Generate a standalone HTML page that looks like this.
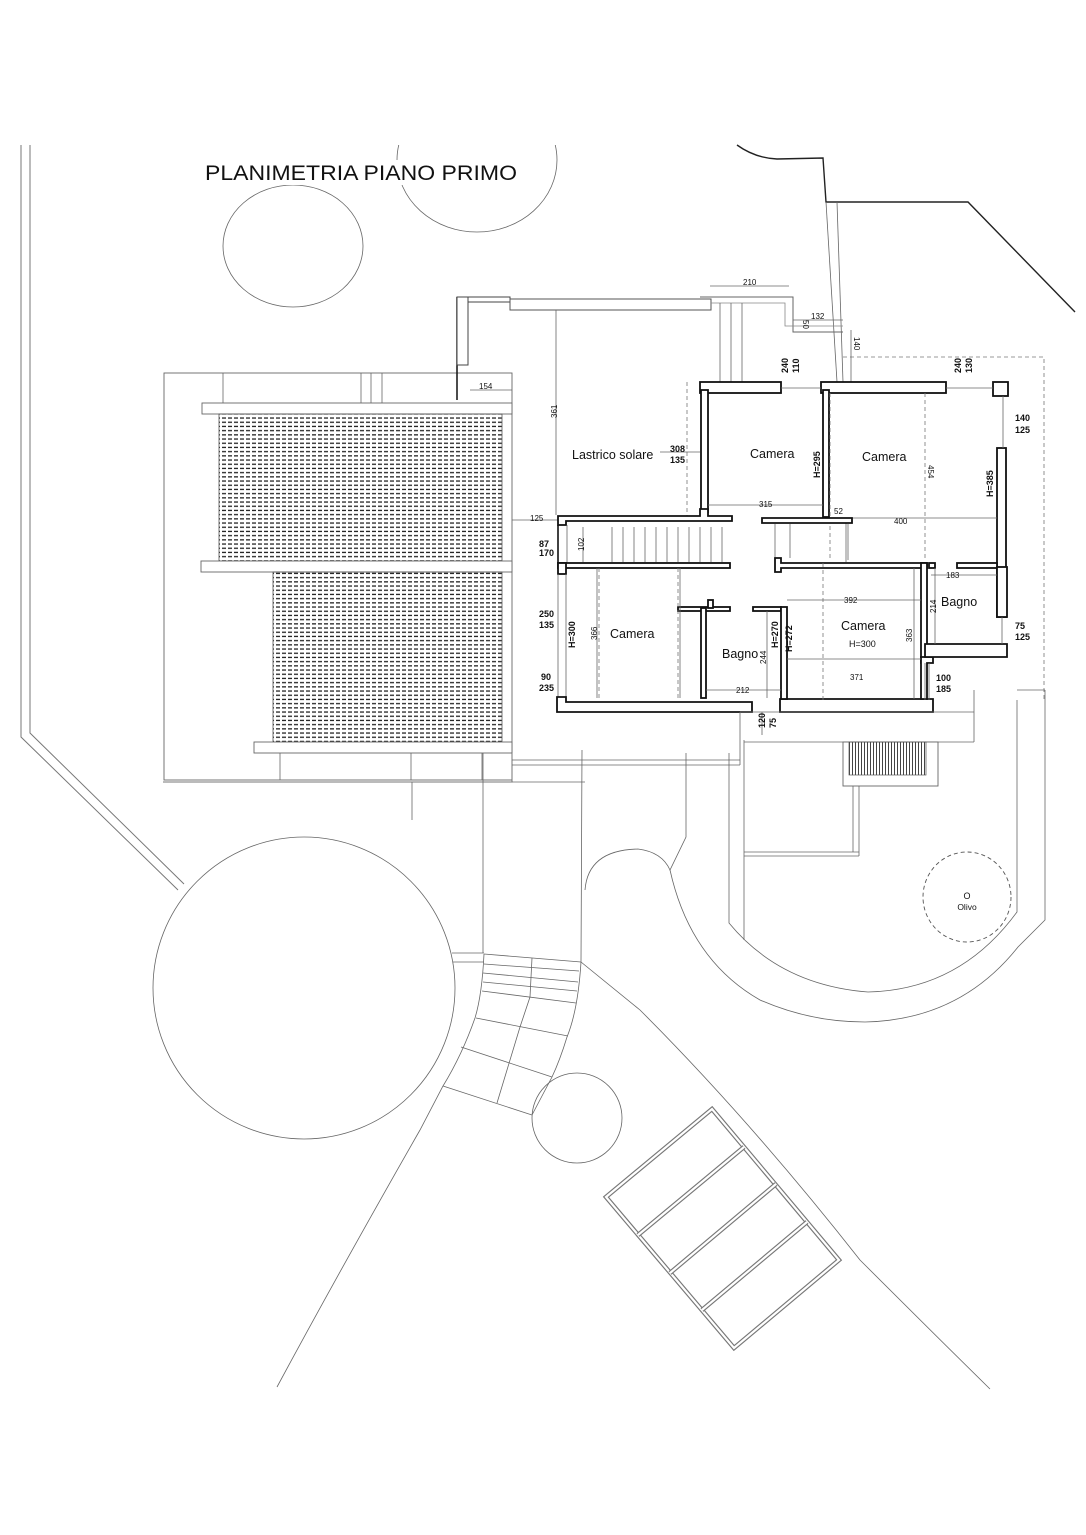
<!DOCTYPE html>
<html><head><meta charset="utf-8"><style>
html,body{margin:0;padding:0;background:#fff}
svg{display:block}
text{font-family:"Liberation Sans",Arial,sans-serif;fill:#111}
.t{stroke:#666;stroke-width:.8;fill:none}
.k{stroke:#111;stroke-width:1.6;fill:none}
.w{fill:#fff;stroke:#111;stroke-width:1.8}
.dd{stroke:#777;stroke-width:.8;fill:none;stroke-dasharray:4 3}
.dim{font-size:8px;fill:#555}
.n{font-size:9px;font-weight:bold}
.r{font-size:12.5px}
</style></head><body>
<svg width="1086" height="1535" viewBox="0 0 1086 1535" xmlns="http://www.w3.org/2000/svg">
<defs>
<pattern id="h" width="6" height="4.2" patternUnits="userSpaceOnUse"><rect x="0" y="1.6" width="4" height="1.3" fill="#222"/></pattern>
<pattern id="v" width="3" height="10" patternUnits="userSpaceOnUse"><rect x="0" y="0" width="1" height="10" fill="#444"/></pattern>
<clipPath id="top"><rect x="0" y="145" width="1086" height="1400"/></clipPath>
</defs>

<!-- left boundary double line -->
<polyline points="21,145 21,737 178,890" fill="none" stroke="#777" stroke-width="1"/>
<polyline points="30,145 30,733 184,884" fill="none" stroke="#777" stroke-width="1"/>

<!-- trees top -->
<ellipse cx="293" cy="246" rx="70" ry="61" class="t"/>
<ellipse cx="477" cy="160" rx="80" ry="72" class="t" clip-path="url(#top)"/>
<rect x="203" y="160" width="318" height="25" fill="#fff"/>
<!-- title -->
<text x="205" y="180" textLength="312" lengthAdjust="spacingAndGlyphs" style="font-size:21px">PLANIMETRIA PIANO PRIMO</text>

<!-- top right boundary -->
<path d="M737,145 Q755,158 777,159 L823,158 L826,202 L968,202 L1075,312" fill="none" stroke="#222" stroke-width="1.4"/>
<line x1="826" y1="202" x2="837" y2="382" class="t"/>
<line x1="837" y1="202" x2="843" y2="382" class="t"/>
<path d="M843,357 L1044,357 L1044,700" class="dd"/>
<line x1="851" y1="330" x2="851" y2="382" class="t"/>

<!-- left terrace block -->
<rect x="164" y="373" width="348" height="407" fill="none" stroke="#666" stroke-width=".9"/>
<line x1="223" y1="373" x2="223" y2="403" class="t"/>
<line x1="361" y1="373" x2="361" y2="403" class="t"/>
<line x1="371" y1="373" x2="371" y2="403" class="t"/>
<line x1="382" y1="373" x2="382" y2="403" class="t"/>
<rect x="202" y="403" width="310" height="11" fill="#fff" stroke="#666" stroke-width=".9"/>
<rect x="219" y="414" width="283" height="147" fill="url(#h)" stroke="#555" stroke-width=".8"/>
<rect x="201" y="561" width="311" height="11" fill="#fff" stroke="#666" stroke-width=".9"/>
<rect x="273" y="572" width="229" height="170" fill="url(#h)" stroke="#555" stroke-width=".8"/>
<rect x="254" y="742" width="258" height="11" fill="#fff" stroke="#666" stroke-width=".9"/>
<line x1="280" y1="753" x2="280" y2="780" class="t"/>
<line x1="411" y1="753" x2="411" y2="780" class="t"/>
<line x1="482" y1="753" x2="482" y2="780" class="t"/>
<line x1="512" y1="753" x2="512" y2="782" class="t"/>

<!-- lastrico parapets -->
<polyline points="457,297 457,400" fill="none" stroke="#111" stroke-width="1.5"/>
<rect x="457" y="297" width="11" height="68" fill="#fff" stroke="#444" stroke-width="1"/>
<rect x="468" y="297" width="42" height="5" fill="#fff" stroke="#444" stroke-width="1"/>
<rect x="510" y="299" width="201" height="11" fill="#fff" stroke="#555" stroke-width="1"/>
<polyline points="700,297 793,297 793,332 843,332" fill="none" stroke="#666" stroke-width="1"/>
<polyline points="711,303 785,303 785,326 843,326" fill="none" stroke="#888" stroke-width=".8"/>
<line x1="720" y1="303" x2="720" y2="382" class="t"/>
<line x1="731" y1="303" x2="731" y2="382" class="t"/>
<line x1="742" y1="303" x2="742" y2="382" class="t"/>
<line x1="556" y1="310" x2="556" y2="515" class="t"/>
<line x1="470" y1="390" x2="512" y2="390" class="t"/>
<line x1="512" y1="520" x2="558" y2="520" class="t"/>
<line x1="710" y1="286" x2="789" y2="286" class="t"/>
<line x1="793" y1="320" x2="843" y2="320" class="t"/>
<path d="M687,382 L687,516" class="dd"/>
<line x1="700" y1="452" x2="660" y2="452" class="t"/>

<!-- UPPER BLOCK WALLS -->
<rect x="700" y="382" width="81" height="11" class="w"/>
<rect x="821" y="382" width="125" height="11" class="w"/>
<rect x="993" y="382" width="15" height="14" class="w"/>
<rect x="701" y="390" width="7" height="122" class="w"/>
<rect x="823" y="390" width="6" height="127" class="w"/>
<rect x="997" y="448" width="9" height="169" class="w"/>
<line x1="1003" y1="396" x2="1003" y2="448" class="t"/>
<line x1="781" y1="388" x2="821" y2="388" class="t"/>
<line x1="946" y1="388" x2="993" y2="388" class="t"/>
<path d="M925,393 L925,560" class="dd"/>
<path d="M830,393 L830,560" class="dd"/>
<line x1="708" y1="505" x2="823" y2="505" class="t"/>
<line x1="829" y1="518" x2="997" y2="518" class="t"/>
<line x1="846" y1="518" x2="846" y2="562" class="t"/>

<!-- corridor wall -->
<polygon points="558,516 700,516 700,509 708,509 708,516 732,516 732,521 566,521 566,525 558,525" class="w"/>
<polygon points="762,518 852,518 852,523 762,523" class="w"/>
<!-- stair -->
<line x1="558" y1="525" x2="558" y2="563" class="k"/>
<line x1="567" y1="525" x2="567" y2="563" class="t"/>
<g class="t">
<line x1="612" y1="527" x2="612" y2="562"/><line x1="623" y1="527" x2="623" y2="562"/><line x1="634" y1="527" x2="634" y2="562"/><line x1="645" y1="527" x2="645" y2="562"/><line x1="656" y1="527" x2="656" y2="562"/><line x1="667" y1="527" x2="667" y2="562"/><line x1="678" y1="527" x2="678" y2="562"/><line x1="689" y1="527" x2="689" y2="562"/><line x1="700" y1="527" x2="700" y2="562"/><line x1="711" y1="527" x2="711" y2="562"/><line x1="722" y1="527" x2="722" y2="562"/>
<line x1="775" y1="524" x2="775" y2="558"/><line x1="790" y1="524" x2="790" y2="558"/>
<line x1="848" y1="524" x2="848" y2="560"/>
</g>
<line x1="583" y1="527" x2="583" y2="562" class="t"/>

<!-- LOWER BLOCK WALLS -->
<rect x="558" y="563" width="172" height="5" class="w"/>
<rect x="558" y="563" width="8" height="11" class="w"/>
<polygon points="775,558 781,558 781,563 927,563 927,568 781,568 781,572 775,572" class="w"/>
<rect x="929" y="563" width="6" height="5" class="w"/>
<rect x="957" y="563" width="40" height="5" class="w"/>
<line x1="558" y1="574" x2="558" y2="698" class="t"/>
<line x1="566" y1="574" x2="566" y2="698" class="t"/>
<polygon points="557,697 566,697 566,702 752,702 752,712 557,712" class="w"/>
<polygon points="780,699 933,699 933,712 780,712" class="w"/>
<rect x="678" y="607" width="52" height="4" class="w"/>
<rect x="708" y="600" width="5" height="8" class="w"/>
<rect x="753" y="607" width="28" height="4" class="w"/>
<rect x="701" y="608" width="5" height="90" class="w"/>
<rect x="781" y="607" width="6" height="92" class="w"/>
<rect x="921" y="563" width="6" height="100" class="w"/>
<polygon points="921,657 933,657 933,663 927,663 927,699 921,699" class="w"/>
<rect x="997" y="567" width="10" height="50" class="w"/>
<polygon points="925,644 1007,644 1007,657 925,657" class="w"/>
<line x1="1002" y1="617" x2="1002" y2="644" class="t"/>
<line x1="680" y1="568" x2="680" y2="698" class="t"/>
<path d="M678,568 L678,700" class="dd"/>
<path d="M599,568 L599,700" class="dd"/>
<path d="M823,563 L823,700" class="dd"/>
<line x1="597" y1="568" x2="597" y2="698" class="t"/>
<line x1="706" y1="690" x2="781" y2="690" class="t"/>
<line x1="767" y1="611" x2="767" y2="698" class="t"/>
<line x1="787" y1="600" x2="921" y2="600" class="t"/>
<line x1="787" y1="659" x2="921" y2="659" class="t"/>
<line x1="914" y1="568" x2="914" y2="699" class="t"/>
<line x1="931" y1="575" x2="997" y2="575" class="t"/>
<line x1="935" y1="568" x2="935" y2="644" class="t"/>
<line x1="925" y1="663" x2="925" y2="700" class="t"/>
<line x1="929" y1="663" x2="929" y2="700" class="t"/>
<line x1="762" y1="712" x2="762" y2="735" class="t"/>

<!-- area below building -->
<polyline points="512,753 512,782 163,782" fill="none" stroke="#777" stroke-width=".9"/>
<line x1="512" y1="782" x2="585" y2="782" class="t"/>
<line x1="512" y1="760" x2="740" y2="760" class="t"/>
<line x1="512" y1="765" x2="740" y2="765" class="t"/>
<line x1="740" y1="712" x2="740" y2="765" class="t"/>
<line x1="740" y1="712" x2="974" y2="712" class="t"/>
<line x1="974" y1="690" x2="974" y2="742" class="t"/>
<line x1="744" y1="742" x2="974" y2="742" class="t"/>
<line x1="483" y1="753" x2="483" y2="953" class="t"/>
<line x1="412" y1="782" x2="412" y2="820" class="t"/>
<!-- stair box -->
<rect x="843" y="742" width="95" height="44" fill="#fff" stroke="#666" stroke-width=".9"/>
<rect x="849" y="742" width="77" height="33" fill="url(#v)" stroke="#555" stroke-width=".7"/>
<line x1="853" y1="786" x2="853" y2="852" class="t"/>
<line x1="859" y1="786" x2="859" y2="856" class="t"/>
<line x1="744" y1="852" x2="859" y2="852" class="t"/>
<line x1="744" y1="856" x2="859" y2="856" class="t"/>

<!-- U walkway -->
<path d="M585,890 Q588,850 638,849 Q662,852 670,870 L686,837 L686,753" class="t"/>
<path d="M670,870 Q690,960 760,1000 Q810,1022 865,1022 Q960,1020 1018,947 L1045,920 L1045,690" class="t"/>
<path d="M729,753 L729,923 Q780,985 868,992 Q960,990 1017,912 L1017,700" class="t"/>
<line x1="744" y1="740" x2="744" y2="940" class="t"/>
<line x1="1017" y1="690" x2="1045" y2="690" class="t"/>
<ellipse cx="967" cy="897" rx="44" ry="45" fill="none" stroke="#555" stroke-width=".9" stroke-dasharray="4 3"/>
<text x="967" y="899" text-anchor="middle" style="font-size:9px">O</text>
<text x="967" y="910" text-anchor="middle" style="font-size:8.5px">Olivo</text>

<!-- big circle -->
<circle cx="304" cy="988" r="151" class="t"/>
<line x1="452" y1="953" x2="484" y2="953" class="t"/>
<line x1="453" y1="962" x2="484" y2="962" class="t"/>
<!-- curved stair -->
<path d="M484,954 Q482,995 475,1018 Q462,1055 443,1086 L420,1130 Q340,1270 277,1387" class="t"/>
<path d="M582,750 L581,962 Q578,1010 567,1037 Q560,1060 552,1077 L532,1115" class="t"/>
<path d="M532,958 L530,997 L520,1027 L497,1103" class="t"/>
<g class="t">
<line x1="484" y1="954" x2="581" y2="962"/><line x1="484" y1="964" x2="579" y2="971"/><line x1="483" y1="973" x2="578" y2="982"/><line x1="483" y1="982" x2="577" y2="991"/><line x1="482" y1="991" x2="576" y2="1003"/><line x1="476" y1="1018" x2="568" y2="1036"/><line x1="461" y1="1047" x2="552" y2="1077"/><line x1="443" y1="1086" x2="532" y2="1115"/>
</g>
<path d="M581,962 L640,1010 Q750,1120 860,1260 Q930,1330 990,1389" class="t"/>
<circle cx="577" cy="1118" r="45" class="t"/>

<!-- parking -->
<g fill="none">
<polygon points="606,1197 712,1109 839,1260 734,1348" stroke="#777" stroke-width="4.5"/>
<polygon points="606,1197 712,1109 839,1260 734,1348" stroke="#fff" stroke-width="2.2"/>
<g stroke="#777" stroke-width="4.5"><line x1="638" y1="1235" x2="744" y2="1147"/><line x1="670" y1="1273" x2="776" y2="1184"/><line x1="702" y1="1310" x2="807" y2="1222"/></g>
<g stroke="#fff" stroke-width="2.2"><line x1="638" y1="1235" x2="744" y2="1147"/><line x1="670" y1="1273" x2="776" y2="1184"/><line x1="702" y1="1310" x2="807" y2="1222"/></g>
</g>

<!-- LABELS -->
<text class="r" x="572" y="459">Lastrico solare</text>
<text class="r" x="750" y="458">Camera</text>
<text class="r" x="862" y="461">Camera</text>
<text class="r" x="610" y="638">Camera</text>
<text class="r" x="722" y="658">Bagno</text>
<text class="r" x="841" y="630">Camera</text>
<text class="r" x="941" y="606">Bagno</text>
<text x="849" y="647" style="font-size:9px">H=300</text>

<g class="n">
<text x="670" y="452">308</text><text x="670" y="463">135</text>
<text x="539" y="547">87</text><text x="539" y="556">170</text>
<text x="539" y="617">250</text><text x="539" y="628">135</text>
<text x="541" y="680">90</text><text x="539" y="691">235</text>
<text x="1015" y="421">140</text><text x="1015" y="433">125</text>
<text x="1015" y="629">75</text><text x="1015" y="640">125</text>
<text x="936" y="681">100</text><text x="936" y="692">185</text>
<text transform="translate(788,373) rotate(-90)">240</text>
<text transform="translate(799,373) rotate(-90)">110</text>
<text transform="translate(961,373) rotate(-90)">240</text>
<text transform="translate(972,373) rotate(-90)">130</text>
<text transform="translate(820,478) rotate(-90)">H=295</text>
<text transform="translate(993,497) rotate(-90)">H=385</text>
<text transform="translate(575,648) rotate(-90)">H=300</text>
<text transform="translate(778,648) rotate(-90)">H=270</text>
<text transform="translate(792,652) rotate(-90)">H=272</text>
<text transform="translate(765,728) rotate(-90)">120</text>
<text transform="translate(776,728) rotate(-90)">75</text>
</g>
<g class="dim">
<text x="743" y="285">210</text>
<text x="811" y="319">132</text>
<text x="479" y="389">154</text>
<text x="530" y="521">125</text>
<text x="759" y="507">315</text>
<text x="834" y="514">52</text>
<text x="894" y="524">400</text>
<text x="946" y="578">183</text>
<text x="844" y="603">392</text>
<text x="850" y="680">371</text>
<text x="736" y="693">212</text>
<text transform="translate(803,320) rotate(90)">50</text>
<text transform="translate(854,337) rotate(90)">140</text>
<text transform="translate(557,418) rotate(-90)">361</text>
<text transform="translate(928,465) rotate(90)">454</text>
<text transform="translate(584,551) rotate(-90)">102</text>
<text transform="translate(597,640) rotate(-90)">366</text>
<text transform="translate(766,664) rotate(-90)">244</text>
<text transform="translate(912,642) rotate(-90)">363</text>
<text transform="translate(936,613) rotate(-90)">214</text>
</g>
</svg>
</body></html>
